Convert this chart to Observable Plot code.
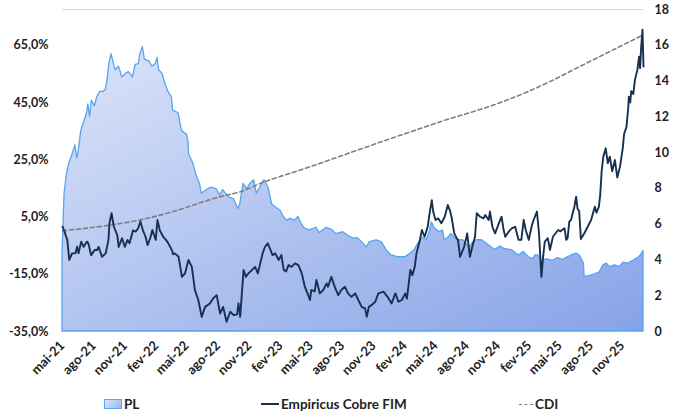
<!DOCTYPE html>
<html>
<head>
<meta charset="utf-8">
<script src="https://cdn.jsdelivr.net/npm/d3@7"></script>
<script src="https://cdn.jsdelivr.net/npm/@observablehq/plot@0.6"></script>
<style>
  html, body { margin: 0; padding: 0; background: #fff; }
  #wrap { width: 686px; font-family: Lato, "Open Sans", sans-serif; }
  #legend { position: relative; width: 686px; height: 24px; font: bold 13.5px Lato, sans-serif; color: #222; }
  #legend .it { position: absolute; top: 6px; display: flex; align-items: center; white-space: nowrap; }
  #legend .sw-area { width: 16px; height: 8px; border: 1px solid #5ba7ee; background: linear-gradient(135deg, #dbe3f8, #9db4ec); margin-right: 2px; }
  #legend .sw-line { width: 18px; height: 0; border-top: 2px solid #17304f; margin-right: 2px; }
  #legend .sw-dash { width: 14px; height: 0; border-top: 1.5px dashed #7f7f7f; margin-right: 2px; }
</style>
</head>
<body>
<div id="wrap">
  <div id="chart"></div>
  <div id="legend">
    <div class="it" style="left:104px"><span class="sw-area"></span>PL</div>
    <div class="it" style="left:261px"><span class="sw-line"></span>Empiricus Cobre FIM</div>
    <div class="it" style="left:519px"><span class="sw-dash"></span>CDI</div>
  </div>
</div>
<script>
// ---- Axis definitions ----
const leftTicks = [-35, -15, 5, 25, 45, 65];           // % (left axis)
const rightTicks = [0, 2, 4, 6, 8, 10, 12, 14, 16, 18]; // PL (right axis)
const pctMin = -35, pctMax = 77.5;                       // left axis range
const plMin = 0, plMax = 18;                             // right axis range
const xTickDates = ["2021-05-01","2021-08-01","2021-11-01","2022-02-01","2022-05-01","2022-08-01","2022-11-01","2023-02-01","2023-05-01","2023-08-01","2023-11-01","2024-02-01","2024-05-01","2024-08-01","2024-11-01","2025-02-01","2025-05-01","2025-08-01","2025-11-01"];
const xTickLabels = ["mai-21","ago-21","nov-21","fev-22","mai-22","ago-22","nov-22","fev-23","mai-23","ago-23","nov-23","fev-24","mai-24","ago-24","nov-24","fev-25","mai-25","ago-25","nov-25"];
const xDomain = ["2021-05-01", "2026-01-02"];

// ---- Series: PL (right axis) ----
const plSeries = [["2021-05-01",4.3],["2021-05-07",7.7],["2021-05-14",8.8],["2021-05-21",9.4],["2021-05-27",9.7],["2021-06-03",10.1],["2021-06-08",10.4],["2021-06-13",9.7],["2021-06-17",10.0],["2021-06-25",11.2],["2021-07-02",11.6],["2021-07-12",12.2],["2021-07-16",12.7],["2021-07-21",12.0],["2021-07-26",12.9],["2021-08-04",12.6],["2021-08-11",13.1],["2021-08-20",13.4],["2021-08-30",13.4],["2021-09-05",13.5],["2021-09-10",14.0],["2021-09-16",15.0],["2021-09-22",15.5],["2021-09-29",14.95],["2021-10-04",14.6],["2021-10-14",14.8],["2021-10-24",14.2],["2021-11-03",14.4],["2021-11-12",14.5],["2021-11-24",14.2],["2021-12-02",14.9],["2021-12-11",14.95],["2021-12-16",15.5],["2021-12-23",15.9],["2021-12-29",15.2],["2022-01-11",15.1],["2022-01-20",14.8],["2022-01-30",14.95],["2022-02-04",15.3],["2022-02-09",14.6],["2022-02-19",14.4],["2022-02-28",13.8],["2022-03-08",13.4],["2022-03-18",13.1],["2022-03-22",12.35],["2022-04-07",12.2],["2022-04-17",11.2],["2022-05-02",11.0],["2022-05-06",10.6],["2022-05-08",9.9],["2022-05-20",9.4],["2022-05-30",8.7],["2022-06-09",8.25],["2022-06-14",7.7],["2022-06-29",7.9],["2022-07-13",8.05],["2022-07-28",7.95],["2022-08-07",7.6],["2022-08-16",7.9],["2022-09-02",7.5],["2022-09-16",7.4],["2022-09-30",6.85],["2022-10-05",7.1],["2022-10-15",8.25],["2022-10-25",7.95],["2022-11-04",8.25],["2022-11-15",8.45],["2022-11-23",7.7],["2022-12-03",8.05],["2022-12-15",8.45],["2022-12-27",8.05],["2023-01-07",7.1],["2023-01-17",6.95],["2023-02-01",6.75],["2023-02-10",6.4],["2023-02-20",6.2],["2023-03-01",6.3],["2023-03-15",6.2],["2023-03-25",6.4],["2023-04-04",6.0],["2023-04-13",5.75],["2023-04-28",5.65],["2023-05-17",5.8],["2023-05-27",5.5],["2023-06-16",5.8],["2023-06-30",5.7],["2023-07-15",5.45],["2023-08-04",5.55],["2023-08-18",5.35],["2023-09-03",5.2],["2023-09-17",5.2],["2023-09-27",5.0],["2023-10-12",4.7],["2023-10-21",5.0],["2023-11-10",5.1],["2023-11-25",5.0],["2023-12-09",4.55],["2023-12-24",4.25],["2024-01-13",4.15],["2024-02-02",4.15],["2024-02-17",4.35],["2024-03-01",4.55],["2024-03-11",4.9],["2024-03-25",5.25],["2024-04-05",5.1],["2024-04-15",5.65],["2024-04-20",6.1],["2024-04-29",5.75],["2024-05-14",5.55],["2024-05-23",5.65],["2024-05-28",5.1],["2024-06-08",5.25],["2024-06-17",5.45],["2024-06-27",5.2],["2024-07-06",5.1],["2024-07-21",5.1],["2024-07-31",4.9],["2024-08-10",4.7],["2024-08-20",5.0],["2024-08-30",5.1],["2024-09-14",5.1],["2024-09-29",4.9],["2024-10-13",4.7],["2024-10-23",4.55],["2024-11-07",4.75],["2024-11-22",4.6],["2024-12-11",4.55],["2025-01-01",4.25],["2025-01-15",4.45],["2025-01-30",4.15],["2025-02-13",4.05],["2025-02-18",4.25],["2025-02-28",4.25],["2025-03-08",3.95],["2025-03-10",3.85],["2025-03-23",4.05],["2025-04-11",3.95],["2025-04-26",4.1],["2025-05-10",4.0],["2025-05-20",4.1],["2025-06-05",4.25],["2025-06-19",4.35],["2025-06-29",4.25],["2025-07-11",3.8],["2025-07-13",3.05],["2025-07-27",3.1],["2025-08-12",3.2],["2025-08-26",3.3],["2025-09-06",3.7],["2025-09-16",3.8],["2025-09-25",3.6],["2025-10-10",3.7],["2025-10-24",3.6],["2025-11-04",3.85],["2025-11-18",3.8],["2025-12-03",3.95],["2025-12-17",4.1],["2025-12-25",4.25],["2026-01-02",4.5]];

// ---- Series: Empiricus Cobre FIM (left axis, %) ----
const fundSeries = [["2021-05-01",1.6],["2021-05-05",0.5],["2021-05-15",-3.0],["2021-05-21",-10.0],["2021-05-29",-7.7],["2021-06-08",-7.7],["2021-06-13",-5.4],["2021-06-17",-7.7],["2021-06-25",-3.6],["2021-07-02",-5.4],["2021-07-12",-3.6],["2021-07-16",-4.2],["2021-07-24",-8.3],["2021-08-04",-6.5],["2021-08-11",-6.5],["2021-08-15",-5.4],["2021-08-25",-8.9],["2021-09-05",-7.7],["2021-09-13",-3.0],["2021-09-16",2.8],["2021-09-22",6.3],["2021-09-29",1.6],["2021-10-09",-1.3],["2021-10-13",-5.4],["2021-10-23",-2.4],["2021-10-31",-5.4],["2021-11-08",-3.0],["2021-11-14",-4.2],["2021-11-24",0.3],["2021-12-02",-0.1],["2021-12-09",1.0],["2021-12-16",3.4],["2021-12-23",0.45],["2021-12-31",-1.9],["2022-01-06",-4.8],["2022-01-15",-1.9],["2022-01-20",0.45],["2022-01-30",-3.0],["2022-02-04",4.0],["2022-02-11",0.3],["2022-02-21",-1.9],["2022-03-01",-3.0],["2022-03-08",-4.2],["2022-03-18",-6.5],["2022-03-22",-8.0],["2022-03-27",-7.7],["2022-04-07",-8.9],["2022-04-17",-15.9],["2022-04-26",-14.7],["2022-05-06",-10.0],["2022-05-16",-12.4],["2022-05-25",-20.5],["2022-06-04",-24.0],["2022-06-14",-29.9],["2022-06-24",-26.4],["2022-07-08",-25.2],["2022-07-18",-23.4],["2022-07-28",-22.3],["2022-08-07",-28.7],["2022-08-16",-26.4],["2022-08-26",-31.6],["2022-09-06",-28.1],["2022-09-16",-29.3],["2022-09-26",-29.0],["2022-09-30",-25.2],["2022-10-05",-29.9],["2022-10-10",-21.7],["2022-10-15",-13.5],["2022-10-22",-15.9],["2022-10-29",-14.7],["2022-11-09",-13.5],["2022-11-18",-12.4],["2022-11-26",-14.7],["2022-12-03",-11.2],["2022-12-10",-7.7],["2022-12-17",-5.4],["2022-12-25",-4.2],["2023-01-02",-6.5],["2023-01-08",-8.3],["2023-01-16",-7.7],["2023-01-26",-10.0],["2023-02-03",-8.3],["2023-02-10",-13.5],["2023-02-17",-14.0],["2023-02-24",-11.8],["2023-03-05",-12.4],["2023-03-15",-11.2],["2023-03-25",-11.8],["2023-04-04",-14.7],["2023-04-13",-19.4],["2023-04-23",-22.3],["2023-04-28",-24.0],["2023-05-02",-20.5],["2023-05-12",-21.0],["2023-05-17",-17.0],["2023-05-27",-21.7],["2023-06-06",-20.5],["2023-06-16",-18.2],["2023-06-20",-19.4],["2023-06-30",-15.9],["2023-07-10",-19.4],["2023-07-20",-22.3],["2023-07-29",-20.5],["2023-08-09",-19.4],["2023-08-18",-21.7],["2023-08-28",-22.9],["2023-09-08",-21.7],["2023-09-17",-24.0],["2023-09-27",-26.4],["2023-10-07",-26.9],["2023-10-12",-29.9],["2023-10-18",-26.4],["2023-10-26",-25.8],["2023-11-06",-24.6],["2023-11-15",-21.7],["2023-11-30",-21.1],["2023-12-12",-22.9],["2023-12-24",-25.2],["2024-01-04",-21.7],["2024-01-13",-24.6],["2024-01-23",-24.0],["2024-02-02",-21.7],["2024-02-07",-23.5],["2024-02-17",-13.5],["2024-02-23",-15.3],["2024-03-01",-12.4],["2024-03-06",-7.7],["2024-03-16",-3.0],["2024-03-22",0.45],["2024-03-30",-1.9],["2024-04-08",1.6],["2024-04-15",7.4],["2024-04-20",10.9],["2024-04-24",6.9],["2024-05-01",3.95],["2024-05-09",4.5],["2024-05-18",2.8],["2024-05-28",5.1],["2024-06-06",9.2],["2024-06-12",7.4],["2024-06-17",5.1],["2024-06-25",-0.7],["2024-07-02",-2.4],["2024-07-06",-3.0],["2024-07-12",-8.9],["2024-07-24",-5.4],["2024-07-31",-1.9],["2024-08-02",-0.7],["2024-08-10",-8.9],["2024-08-17",-5.4],["2024-08-25",-1.9],["2024-08-30",6.3],["2024-09-09",5.1],["2024-09-19",4.5],["2024-09-24",5.7],["2024-10-04",3.95],["2024-10-08",6.9],["2024-10-15",1.6],["2024-10-23",-0.7],["2024-11-03",2.8],["2024-11-11",5.1],["2024-11-17",0.45],["2024-11-22",-1.9],["2024-12-02",-0.1],["2024-12-11",1.0],["2024-12-21",1.6],["2024-12-31",-3.0],["2025-01-08",-3.0],["2025-01-15",3.95],["2025-01-22",0.0],["2025-01-30",-3.0],["2025-02-07",1.6],["2025-02-13",3.95],["2025-02-23",6.9],["2025-03-01",-0.7],["2025-03-08",-15.9],["2025-03-13",-8.9],["2025-03-18",-3.6],["2025-03-27",-2.4],["2025-04-02",-6.5],["2025-04-11",-1.9],["2025-04-26",0.45],["2025-05-03",0.0],["2025-05-15",1.05],["2025-05-20",-3.0],["2025-05-24",-2.4],["2025-05-29",3.4],["2025-06-03",3.95],["2025-06-08",6.3],["2025-06-13",8.6],["2025-06-18",12.1],["2025-06-22",8.0],["2025-06-27",7.0],["2025-07-02",-2.7],["2025-07-13",-0.5],["2025-07-22",1.6],["2025-08-01",3.95],["2025-08-12",8.6],["2025-08-17",6.5],["2025-08-24",8.6],["2025-08-28",13.0],["2025-09-01",21.0],["2025-09-06",26.1],["2025-09-13",29.0],["2025-09-19",23.8],["2025-09-25",26.1],["2025-10-02",21.0],["2025-10-10",24.9],["2025-10-17",18.8],["2025-10-25",22.6],["2025-11-02",29.0],["2025-11-06",34.0],["2025-11-13",36.5],["2025-11-18",43.0],["2025-11-20",47.0],["2025-11-24",45.0],["2025-11-27",49.0],["2025-12-03",48.0],["2025-12-08",53.0],["2025-12-15",56.4],["2025-12-20",61.0],["2025-12-23",57.0],["2025-12-26",64.0],["2025-12-30",70.4],["2026-01-02",57.6]];

// ---- Series: CDI (left axis, %) ----
const cdiSeries = [["2021-05-01",0.2],["2021-09-19",2.2],["2021-12-16",4.0],["2022-03-22",6.9],["2022-08-07",12.1],["2022-10-05",13.8],["2022-12-15",17.3],["2023-03-15",20.8],["2023-12-09",31.9],["2024-05-15",38.3],["2024-11-15",45.3],["2025-04-02",52.3],["2025-06-29",57.6],["2025-10-05",63.4],["2025-12-31",68.6]];

// ---- Build tables ----
const parse = d3.utcParse("%Y-%m-%d");
const plScale = (pctMax - pctMin) / (plMax - plMin); // PL units -> left-axis units
const plData = plSeries.map(([d, v]) => ({date: parse(d), pl: v, y: pctMin + (v - plMin) * plScale}));
const fundData = fundSeries.map(([d, v]) => ({date: parse(d), y: v}));
const cdiData = cdiSeries.map(([d, v]) => ({date: parse(d), y: v}));
const rightTickPos = rightTicks.map(v => pctMin + (v - plMin) * plScale);
const xTicks = xTickDates.map(parse);
const fmtPct = d => d.toFixed(1).replace(".", ",") + "%";
const FS = 12.5;

const chart = Plot.plot({
  width: 686,
  height: 390,
  marginLeft: 62,
  marginRight: 43,
  marginTop: 9,
  marginBottom: 59,
  x: {type: "utc", domain: xDomain.map(parse), label: null},
  y: {domain: [pctMin, pctMax], label: null},
  style: {fontFamily: "Lato, sans-serif", fontSize: FS + "px", fontWeight: "bold", color: "#222", background: "white", overflow: "visible"},
  marks: [
    Plot.ruleY([pctMax], {stroke: "#d9d9d9", strokeWidth: 1}),
    Plot.areaY(plData, {x: "date", y1: () => pctMin, y2: "y", fill: "url(#plGrad)", stroke: "#55a5ef", strokeWidth: 1.3}),
    Plot.line(cdiData, {x: "date", y: "y", stroke: "#7f7f7f", strokeWidth: 1.6, strokeDasharray: "4,3", curve: "monotone-x"}),
    Plot.line(fundData, {x: "date", y: "y", stroke: "#17304f", strokeWidth: 1.9}),
    Plot.axisY(leftTicks, {anchor: "left", label: null, tickSize: 0, tickPadding: 14, tickFormat: fmtPct, fontSize: FS, fontWeight: "bold"}),
    Plot.axisY(rightTickPos, {anchor: "right", label: null, tickSize: 0, tickPadding: 11, tickFormat: d => String(Math.round((d - pctMin) / plScale + plMin)), fontSize: FS, fontWeight: "bold"}),
    Plot.axisX(xTicks, {anchor: "bottom", label: null, tickSize: 0, tickPadding: 12, tickRotate: -45, tickFormat: d => xTickLabels[xTicks.findIndex(t => +t === +d)], fontSize: 13, fontWeight: "bold"})
  ]
});

// gradient fill for the PL area
const defs = d3.select(chart).insert("defs", ":first-child");
const g = defs.append("linearGradient").attr("id", "plGrad").attr("x1", "0").attr("y1", "0").attr("x2", "1").attr("y2", "1");
g.append("stop").attr("offset", "0%").attr("stop-color", "#dce4f8");
g.append("stop").attr("offset", "100%").attr("stop-color", "#86a3e8");

document.getElementById("chart").appendChild(chart);
</script>
</body>
</html>
